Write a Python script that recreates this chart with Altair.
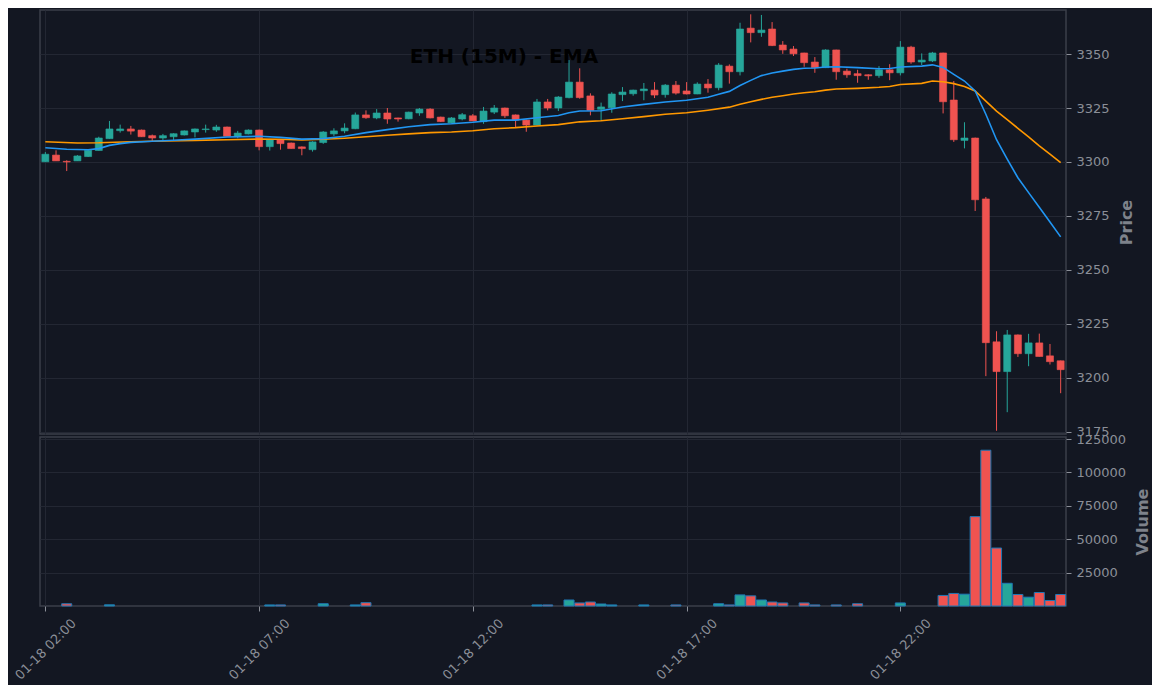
import altair as alt
import pandas as pd

# ---------------- data ----------------
opens = [3300.1, 3303.2, 3300.3, 3300.5, 3302.5, 3305.3, 3310.8, 3314.5, 3315.3, 3314.8,
         3312.2, 3311.1, 3311.7, 3312.5, 3313.9, 3315.0, 3314.8, 3316.2, 3311.9, 3313.0,
         3314.8, 3307.1, 3310.2, 3308.8, 3307.0, 3305.7, 3309.0, 3313.0, 3314.4, 3315.4,
         3321.8, 3320.4, 3322.7, 3320.4, 3320.0, 3322.7, 3324.5, 3320.8, 3318.1, 3319.9,
         3321.4, 3318.7, 3323.1, 3325.0, 3321.8, 3319.4, 3317.1, 3327.8, 3325.0, 3329.8,
         3337.0, 3330.6, 3324.4, 3325.1, 3331.2, 3331.6, 3333.0, 3333.3, 3331.2, 3335.6,
         3332.9, 3331.5, 3336.1, 3334.4, 3344.4, 3341.8, 3362.0, 3359.9, 3361.6, 3354.2,
         3352.3, 3350.5, 3346.3, 3343.7, 3351.9, 3342.1, 3340.9, 3340.4, 3340.0, 3342.7,
         3341.3, 3353.2, 3346.3, 3346.8, 3350.5, 3328.7, 3310.0, 3311.1, 3282.9, 3216.7,
         3202.9, 3219.9, 3211.2, 3216.2, 3210.2, 3207.9]
highs = [3304.6, 3305.4, 3300.8, 3303.2, 3305.6, 3311.7, 3319.0, 3317.3, 3316.7, 3315.0,
         3312.7, 3313.0, 3313.3, 3314.6, 3315.5, 3317.3, 3317.2, 3316.4, 3314.4, 3315.1,
         3315.0, 3310.4, 3310.4, 3309.0, 3307.2, 3309.6, 3314.3, 3315.6, 3317.9, 3322.9,
         3323.9, 3324.5, 3325.0, 3320.5, 3323.3, 3325.0, 3324.9, 3321.0, 3320.8, 3322.7,
         3322.2, 3325.5, 3326.4, 3325.2, 3322.0, 3319.6, 3329.2, 3329.2, 3330.5, 3347.2,
         3343.4, 3331.8, 3327.5, 3332.3, 3334.7, 3333.5, 3336.6, 3337.0, 3336.1, 3337.5,
         3337.0, 3336.9, 3338.4, 3345.8, 3345.2, 3364.5, 3368.4, 3368.1, 3364.8, 3356.0,
         3353.7, 3350.6, 3348.6, 3352.2, 3352.0, 3343.2, 3342.7, 3340.6, 3344.4, 3345.3,
         3356.0, 3353.8, 3350.3, 3351.0, 3350.6, 3337.5, 3318.4, 3311.3, 3283.8, 3221.6,
         3222.2, 3220.1, 3220.4, 3220.5, 3215.7, 3208.0]
lows = [3300.0, 3300.5, 3295.8, 3300.5, 3302.3, 3305.3, 3310.8, 3313.6, 3312.7, 3311.7,
        3309.6, 3309.9, 3310.0, 3312.3, 3311.4, 3313.6, 3314.0, 3311.9, 3311.0, 3312.8,
        3305.4, 3305.3, 3305.7, 3306.2, 3303.1, 3304.8, 3308.4, 3312.0, 3313.3, 3315.2,
        3320.0, 3319.8, 3317.7, 3318.7, 3319.8, 3321.4, 3320.2, 3318.5, 3318.0, 3319.3,
        3318.9, 3317.7, 3322.2, 3320.4, 3316.2, 3314.0, 3316.9, 3323.9, 3323.6, 3329.5,
        3329.3, 3321.6, 3319.0, 3322.8, 3328.2, 3330.7, 3328.6, 3329.6, 3329.8, 3331.2,
        3331.3, 3331.4, 3332.1, 3333.2, 3336.3, 3340.1, 3355.4, 3358.0, 3353.7, 3350.1,
        3349.1, 3344.1, 3341.3, 3343.5, 3338.1, 3339.0, 3336.7, 3338.1, 3339.0, 3337.9,
        3340.1, 3345.5, 3344.9, 3346.3, 3322.5, 3309.3, 3306.3, 3277.3, 3200.8, 3175.5,
        3184.1, 3209.7, 3205.4, 3209.9, 3206.2, 3192.9]
closes = [3303.6, 3300.5, 3300.0, 3302.8, 3305.4, 3311.1, 3315.3, 3315.3, 3314.3, 3311.7,
          3311.1, 3312.2, 3313.1, 3314.4, 3315.3, 3315.3, 3316.2, 3311.9, 3313.4, 3314.8,
          3307.1, 3310.2, 3308.5, 3306.2, 3306.2, 3309.3, 3313.9, 3314.4, 3315.7, 3321.8,
          3320.5, 3322.7, 3319.9, 3319.9, 3323.1, 3324.5, 3320.4, 3318.7, 3320.4, 3321.9,
          3319.0, 3323.6, 3325.0, 3321.4, 3319.4, 3317.1, 3327.8, 3325.0, 3330.1, 3337.0,
          3329.8, 3323.9, 3325.5, 3331.5, 3332.4, 3333.3, 3333.8, 3331.0, 3335.6, 3331.9,
          3331.5, 3336.1, 3334.3, 3344.9, 3341.8, 3361.6, 3359.9, 3361.1, 3353.9, 3351.9,
          3350.1, 3346.0, 3343.7, 3351.9, 3341.8, 3340.4, 3340.0, 3339.9, 3342.7, 3341.3,
          3353.2, 3346.3, 3347.2, 3350.5, 3327.9, 3310.3, 3311.1, 3282.5, 3216.3, 3202.9,
          3219.9, 3211.2, 3216.2, 3209.9, 3207.5, 3203.8]
volumes = [0, 0, 1700, 0, 0, 0, 900, 0, 0, 0,
           0, 0, 0, 0, 0, 0, 0, 0, 0, 0,
           0, 800, 800, 0, 0, 0, 1700, 0, 0, 800,
           2500, 0, 0, 0, 0, 0, 0, 0, 0, 0,
           0, 0, 0, 0, 0, 0, 800, 800, 0, 4500,
           2300, 3000, 1500, 800, 0, 0, 800, 0, 0, 800,
           0, 0, 0, 1700, 800, 8300, 7600, 4500, 3000, 2300,
           0, 2300, 800, 0, 800, 0, 1700, 0, 0, 0,
           2300, 0, 0, 0, 7900, 9400, 8850, 66900, 116600, 43400,
           17000, 8600, 6600, 10100, 4100, 8600]

ema_fast_idx = [0, 2, 4, 5, 6, 7, 8, 10, 12, 14, 17, 20, 22, 24, 26, 28, 30, 32, 34, 36,
                38, 40, 42, 44, 46, 48, 49, 50, 52, 54, 56, 58, 60, 62, 63, 64, 65, 66, 67, 68,
                69, 70, 71, 72, 73, 74, 76, 78, 79, 80, 82, 83, 84, 85, 86, 87, 88, 89, 90, 91,
                92, 93, 94, 95]
ema_fast = [3306.6, 3305.9, 3305.7, 3306.2, 3307.7, 3308.5, 3309.1, 3309.6, 3310.1, 3310.6,
            3311.6, 3311.9, 3311.4, 3310.6, 3310.8, 3311.9, 3313.6, 3315.0, 3316.3, 3317.3,
            3317.7, 3318.4, 3319.4, 3319.4, 3320.5, 3321.5, 3322.8, 3323.6, 3323.7, 3325.5,
            3326.7, 3327.8, 3328.6, 3330.0, 3331.4, 3332.7, 3335.4, 3337.8, 3340.0, 3341.2,
            3342.1, 3342.9, 3343.4, 3343.5, 3344.0, 3344.1, 3343.7, 3343.2, 3343.3, 3344.0,
            3344.4, 3345.0, 3343.8, 3340.6, 3337.5, 3332.9, 3322.1, 3310.3, 3301.3, 3292.7,
            3285.8, 3279.0, 3272.2, 3265.3]
ema_slow_idx = [0, 3, 5, 8, 10, 14, 17, 20, 22, 24, 26, 28, 30, 32, 34, 36, 38, 40, 42, 44,
                46, 48, 50, 52, 54, 56, 58, 60, 62, 64, 65, 66, 67, 68, 69, 70, 71, 72, 73, 74,
                76, 78, 79, 80, 82, 83, 84, 85, 86, 87, 88, 89, 90, 91, 92, 93, 94, 95]
ema_slow = [3309.4, 3308.8, 3308.9, 3309.4, 3309.6, 3310.0, 3310.3, 3310.6, 3310.5, 3310.2,
            3310.5, 3311.0, 3311.7, 3312.4, 3313.0, 3313.6, 3313.9, 3314.5, 3315.4, 3315.9,
            3316.7, 3317.3, 3318.6, 3319.1, 3320.0, 3321.0, 3322.1, 3322.8, 3324.0, 3325.4,
            3326.7, 3327.9, 3329.0, 3330.0, 3330.7, 3331.5, 3332.1, 3332.5, 3333.3, 3333.8,
            3334.1, 3334.6, 3335.0, 3335.9, 3336.4, 3337.5, 3337.2, 3336.3, 3335.0, 3332.9,
            3328.2, 3323.6, 3319.6, 3315.6, 3311.6, 3307.5, 3303.6, 3299.7]

tick_idx = [0, 20, 40, 60, 80]
tick_labels = ["01-18 02:00", "01-18 07:00", "01-18 12:00", "01-18 17:00", "01-18 22:00"]
price_ticks = [3175, 3200, 3225, 3250, 3275, 3300, 3325, 3350]
volume_ticks = [25000, 50000, 75000, 100000, 125000]
title_text = "ETH (15M) - EMA"

# ---------------- styling ----------------
BG = "#131722"
UP = "#26a69a"
DOWN = "#ef5350"
FAST = "#2196f3"
SLOW = "#ff9800"
GRID = "#232733"
FRAME = "#3b3f49"
LABEL = "#8b8f98"
TITLE = "#7e828b"
FONT = "DejaVu Sans"

df = pd.DataFrame({"i": list(range(len(opens))), "open": opens, "high": highs,
                   "low": lows, "close": closes, "volume": volumes})
df["dir"] = ["up" if c >= o else "down" for o, c in zip(opens, closes)]

fast_df = pd.DataFrame({"i": ema_fast_idx, "v": ema_fast})
slow_df = pd.DataFrame({"i": ema_slow_idx, "v": ema_slow})

label_expr = ("[" + ",".join("'%s'" % t for t in tick_labels) + "][indexof(["
              + ",".join(str(v) for v in tick_idx) + "], datum.value)]")

xscale = alt.Scale(domain=[-0.5, 95.5], nice=False, zero=False)
color = alt.Color("dir:N", scale=alt.Scale(domain=["up", "down"], range=[UP, DOWN]), legend=None)

W = 1026
H_PRICE = 424
H_VOL = 169

x_top = alt.X("i:Q", scale=xscale,
              axis=alt.Axis(values=tick_idx, labels=False, ticks=False, domain=False,
                            grid=True, title=None))
y_price = alt.Y("low:Q", scale=alt.Scale(domain=[3174, 3370.4], nice=False, zero=False),
                axis=alt.Axis(orient="right", values=price_ticks, title="Price",
                              titleAngle=270, titlePadding=25, labelPadding=5,
                              format="d", domain=False))

wicks = alt.Chart(df).mark_rule(strokeWidth=1).encode(
    x=x_top, y=y_price, y2="high:Q", color=color)

bodies = alt.Chart(df).transform_calculate(
    x0="datum.i - 0.33", x1="datum.i + 0.33"
).mark_rect(strokeWidth=0.6).encode(
    x=alt.X("x0:Q", scale=xscale), x2="x1:Q",
    y=alt.Y("open:Q"), y2="close:Q",
    color=color, stroke=color)

fast_line = alt.Chart(fast_df).mark_line(color=FAST, strokeWidth=1.6).encode(
    x=alt.X("i:Q", scale=xscale), y=alt.Y("v:Q"))
slow_line = alt.Chart(slow_df).mark_line(color=SLOW, strokeWidth=1.6).encode(
    x=alt.X("i:Q", scale=xscale), y=alt.Y("v:Q"))

title_mark = alt.Chart(pd.DataFrame({"t": [title_text]})).mark_text(
    font=FONT, fontSize=20, fontWeight="bold", color="#000000",
    align="center", baseline="middle"
).encode(x=alt.value(464), y=alt.value(47), text="t:N")

price = alt.layer(wicks, bodies, slow_line, fast_line, title_mark).properties(
    width=W, height=H_PRICE)

x_bot = alt.X("x0:Q", scale=xscale,
              axis=alt.Axis(values=tick_idx, labelExpr=label_expr, grid=True, title=None,
                            labelAngle=315, labelAlign="center", labelBaseline="middle",
                            labelPadding=38, tickSize=5, domain=False))
vol = alt.Chart(df).transform_filter("datum.volume > 0").transform_calculate(
    x0="datum.i - 0.47", x1="datum.i + 0.47", zero="0"
).mark_rect(stroke="#1f77b4", strokeWidth=1).encode(
    x=x_bot, x2="x1:Q",
    y=alt.Y("volume:Q", scale=alt.Scale(domain=[0, 126500], nice=False),
            axis=alt.Axis(orient="right", values=volume_ticks, title="Volume",
                          titleAngle=270, titlePadding=25, labelPadding=5,
                          format="d", domain=False)),
    y2="zero:Q",
    color=color).properties(width=W, height=H_VOL)

chart = alt.vconcat(price, vol, spacing=3, bounds="flush").resolve_scale(
    x="independent"
).properties(
    background=BG,
    autosize=alt.AutoSizeParams(type="pad"),
    padding={"left": 4, "top": 1, "right": 0, "bottom": 2},
).configure_view(
    stroke=FRAME, strokeWidth=1.5
).configure_axis(
    labelColor=LABEL, labelFont=FONT, labelFontSize=13,
    titleColor=TITLE, titleFont=FONT, titleFontSize=16, titleFontWeight="bold",
    gridColor=GRID, gridWidth=1, tickColor=LABEL, tickSize=5, domainColor=FRAME
)

chart.save("out.html", embed_options={"renderer": "svg", "actions": False})
